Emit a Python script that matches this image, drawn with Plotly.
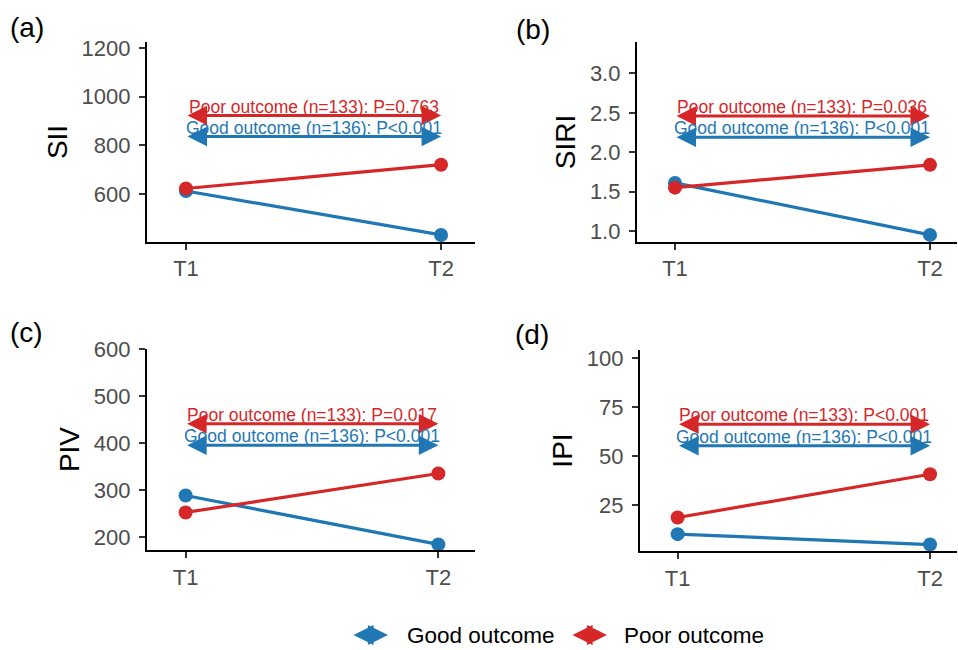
import plotly.graph_objects as go

# Time points and group means for the four inflammation indices
timepoints = ["T1", "T2"]
groups = ["Good outcome", "Poor outcome"]
group_colors = ["#1F77B4", "#D62728"]

sii_good = [612, 431]
sii_poor = [622, 720]
siri_good = [1.61, 0.95]
siri_poor = [1.55, 1.84]
piv_good = [289, 185]
piv_poor = [253, 336]
ipi_good = [10.2, 4.9]
ipi_poor = [18.7, 40.8]

n_good = 136
n_poor = 133
p_good = ["P<0.001", "P<0.001", "P<0.001", "P<0.001"]
p_poor = ["P=0.763", "P=0.036", "P=0.017", "P<0.001"]

index_names = ["SII", "SIRI", "PIV", "IPI"]
panel_tags = ["(a)", "(b)", "(c)", "(d)"]

# y-levels of the comparison brackets (good, poor) in each panel
bracket_good_y = [836, 2.19, 396, 55.3]
bracket_poor_y = [922, 2.46, 442, 66.3]

# y-axis ranges and ticks
y_ranges = [[402, 1225], [0.86, 3.40], [173, 601], [1.6, 104.2]]
y_ticks = [[600, 800, 1000, 1200], [1.0, 1.5, 2.0, 2.5, 3.0],
           [200, 300, 400, 500, 600], [25, 50, 75, 100]]
y_tickfmt = ["d", ".1f", "d", "d"]

# panel geometry in paper coordinates
x_domains = [[0.1534, 0.4958], [0.6649, 0.999], [0.1534, 0.4958], [0.6681, 0.999]]
y_domains = [[0.6277, 0.9354], [0.6277, 0.9354], [0.1538, 0.4631], [0.1523, 0.4615]]
x_ranges = [[-0.153, 1.133], [-0.149, 1.106], [-0.153, 1.145], [-0.149, 1.107]]
tag_pos = [(0.008, 0.957), (0.537, 0.954), (0.008, 0.488), (0.535, 0.485)]

# legend key placement (paper coordinates for the key's right end, pixel length)
legend_key_end = [0.4050, 0.6336]
legend_key_len = 36
legend_text_x = [0.4228, 0.6493]
legend_y = 0.023

series_good = [sii_good, siri_good, piv_good, ipi_good]
series_poor = [sii_poor, siri_poor, piv_poor, ipi_poor]

FONT = "Liberation Sans, Arial, Helvetica, sans-serif"

fig = go.Figure()
annotations = []
layout_axes = {}

for i in range(4):
    k = "" if i == 0 else str(i + 1)
    xref, yref = "x" + k, "y" + k

    for vals, name, color in [(series_good[i], groups[0], group_colors[0]),
                              (series_poor[i], groups[1], group_colors[1])]:
        fig.add_trace(go.Scatter(
            x=timepoints, y=vals, mode="lines+markers", name=name,
            legendgroup=name, line=dict(color=color, width=3.2),
            marker=dict(color=color, size=14),
            showlegend=False, xaxis=xref, yaxis=yref, hoverinfo="x+y+name",
        ))

    # double-headed comparison arrows with their labels
    for yv, color, label in [
        (bracket_poor_y[i], group_colors[1], f"Poor outcome (n={n_poor}): {p_poor[i]}"),
        (bracket_good_y[i], group_colors[0], f"Good outcome (n={n_good}): {p_good[i]}"),
    ]:
        annotations.append(dict(
            x=1, y=yv, ax=0, ay=yv, xref=xref, yref=yref, axref=xref, ayref=yref,
            text="", showarrow=True, arrowside="end+start",
            arrowhead=2, startarrowhead=2, arrowsize=1.3, startarrowsize=1.3,
            arrowwidth=3, arrowcolor=color, standoff=0, startstandoff=0,
        ))
        annotations.append(dict(
            x=0.5, y=yv, xref=xref, yref=yref, text=label, showarrow=False,
            xanchor="center", yanchor="middle", yshift=9,
            font=dict(family=FONT, size=17.5, color=color),
        ))

    tx, ty = tag_pos[i]
    annotations.append(dict(
        x=tx, y=ty, xref="paper", yref="paper", text=panel_tags[i],
        showarrow=False, xanchor="left", yanchor="middle",
        font=dict(family=FONT, size=28, color="black"),
    ))

    layout_axes["xaxis" + k] = dict(
        domain=x_domains[i], anchor=yref, type="category",
        categoryorder="array", categoryarray=timepoints, range=x_ranges[i],
        showline=True, linecolor="black", linewidth=2.2,
        ticks="outside", ticklen=6, tickwidth=2, tickcolor="#333333",
        tickfont=dict(family=FONT, size=22, color="#4D4D4D"),
        showgrid=False, zeroline=False, automargin=False,
    )
    layout_axes["yaxis" + k] = dict(
        domain=y_domains[i], anchor=xref, range=y_ranges[i],
        tickvals=y_ticks[i], tickformat=y_tickfmt[i],
        showline=True, linecolor="black", linewidth=2.2,
        ticks="outside", ticklen=6, tickwidth=2, tickcolor="#333333",
        ticklabelstandoff=4,
        tickfont=dict(family=FONT, size=22, color="#4D4D4D"),
        title=dict(text=index_names[i], font=dict(family=FONT, size=28, color="black"),
                   standoff=6),
        showgrid=False, zeroline=False, automargin=False,
    )

# legend: double-arrow keys followed by group names
for x1, tx, name, color in zip(legend_key_end, legend_text_x, groups, group_colors):
    annotations.append(dict(
        x=x1, y=legend_y, xref="paper", yref="paper",
        ax=-legend_key_len, ay=0, axref="pixel", ayref="pixel",
        text="", showarrow=True, arrowside="end+start",
        arrowhead=2, startarrowhead=2, arrowsize=1.15, startarrowsize=1.15,
        arrowwidth=3.5, arrowcolor=color, standoff=0, startstandoff=0,
    ))
    annotations.append(dict(
        x=tx, y=legend_y, xref="paper", yref="paper", text=name, showarrow=False,
        xanchor="left", yanchor="middle",
        font=dict(family=FONT, size=22.5, color="black"),
    ))

fig.update_layout(
    template="none",
    width=958, height=650,
    margin=dict(l=0, r=0, t=0, b=0, autoexpand=False),
    paper_bgcolor="white", plot_bgcolor="white",
    font=dict(family=FONT, color="black"),
    annotations=annotations,
    showlegend=False,
    **layout_axes,
)

fig.write_html("out.html")
